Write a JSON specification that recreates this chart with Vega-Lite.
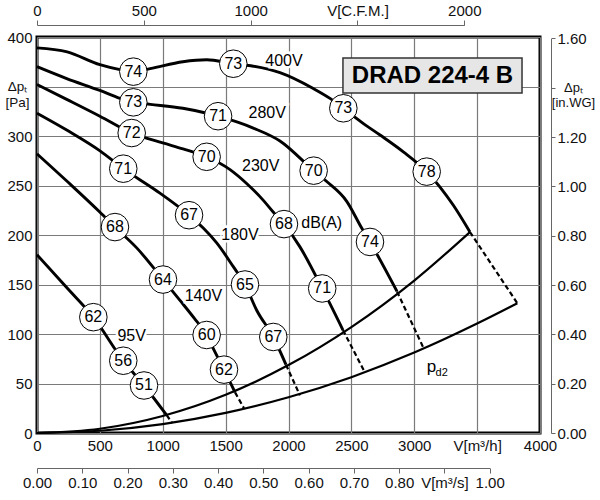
{
  "$schema": "https://vega.github.io/schema/vega-lite/v6.json",
  "width": 503,
  "height": 396,
  "autosize": {"type": "none"},
  "padding": {"left": 37, "top": 37, "right": 60, "bottom": 67},
  "background": "white",
  "config": {
    "font": "Liberation Sans",
    "view": {"stroke": "#000", "strokeWidth": 3},
    "axis": {"labelFontSize": 15, "labelColor": "#111", "labelFont": "Liberation Sans", "labelFlush": false, "labelOverlap": false, "grid": false}
  },
  "datasets": {
    "curves": [
      {"v": "400V", "q": 0, "p": 389}, {"v": "400V", "q": 240, "p": 385}, {"v": "400V", "q": 500, "p": 372},
      {"v": "400V", "q": 660, "p": 367}, {"v": "400V", "q": 766, "p": 365}, {"v": "400V", "q": 900, "p": 368},
      {"v": "400V", "q": 1160, "p": 375}, {"v": "400V", "q": 1350, "p": 377}, {"v": "400V", "q": 1561, "p": 373},
      {"v": "400V", "q": 1700, "p": 371}, {"v": "400V", "q": 1932, "p": 364}, {"v": "400V", "q": 2197, "p": 348},
      {"v": "400V", "q": 2330, "p": 338}, {"v": "400V", "q": 2436, "p": 328}, {"v": "400V", "q": 2580, "p": 314},
      {"v": "400V", "q": 2728, "p": 301}, {"v": "400V", "q": 2913, "p": 284}, {"v": "400V", "q": 3099, "p": 264},
      {"v": "400V", "q": 3311, "p": 230}, {"v": "400V", "q": 3443, "p": 203},
      {"v": "280V", "q": 0, "p": 370}, {"v": "280V", "q": 236, "p": 358}, {"v": "280V", "q": 500, "p": 346},
      {"v": "280V", "q": 660, "p": 338}, {"v": "280V", "q": 766, "p": 334}, {"v": "280V", "q": 900, "p": 332},
      {"v": "280V", "q": 1160, "p": 328}, {"v": "280V", "q": 1350, "p": 323}, {"v": "280V", "q": 1440, "p": 320},
      {"v": "280V", "q": 1720, "p": 308}, {"v": "280V", "q": 1932, "p": 295}, {"v": "280V", "q": 2200, "p": 265},
      {"v": "280V", "q": 2304, "p": 254}, {"v": "280V", "q": 2463, "p": 234}, {"v": "280V", "q": 2582, "p": 207},
      {"v": "280V", "q": 2648, "p": 193}, {"v": "280V", "q": 2863, "p": 143},
      {"v": "230V", "q": 0, "p": 352}, {"v": "230V", "q": 236, "p": 337}, {"v": "230V", "q": 500, "p": 320},
      {"v": "230V", "q": 753, "p": 303}, {"v": "230V", "q": 1000, "p": 293}, {"v": "230V", "q": 1161, "p": 287},
      {"v": "230V", "q": 1349, "p": 279}, {"v": "230V", "q": 1535, "p": 266}, {"v": "230V", "q": 1667, "p": 252},
      {"v": "230V", "q": 1800, "p": 235}, {"v": "230V", "q": 1880, "p": 223}, {"v": "230V", "q": 1964, "p": 211},
      {"v": "230V", "q": 2091, "p": 188}, {"v": "230V", "q": 2268, "p": 146}, {"v": "230V", "q": 2433, "p": 104},
      {"v": "180V", "q": 0, "p": 323}, {"v": "180V", "q": 250, "p": 305}, {"v": "180V", "q": 501, "p": 285},
      {"v": "180V", "q": 686, "p": 267}, {"v": "180V", "q": 947, "p": 245}, {"v": "180V", "q": 1209, "p": 220},
      {"v": "180V", "q": 1322, "p": 207}, {"v": "180V", "q": 1429, "p": 192}, {"v": "180V", "q": 1561, "p": 168},
      {"v": "180V", "q": 1654, "p": 150}, {"v": "180V", "q": 1747, "p": 124}, {"v": "180V", "q": 1879, "p": 97},
      {"v": "180V", "q": 1980, "p": 69},
      {"v": "140V", "q": 0, "p": 282}, {"v": "140V", "q": 250, "p": 253}, {"v": "140V", "q": 501, "p": 223},
      {"v": "140V", "q": 620, "p": 208}, {"v": "140V", "q": 793, "p": 187}, {"v": "140V", "q": 1002, "p": 155},
      {"v": "140V", "q": 1137, "p": 134}, {"v": "140V", "q": 1250, "p": 116}, {"v": "140V", "q": 1349, "p": 99},
      {"v": "140V", "q": 1415, "p": 82}, {"v": "140V", "q": 1487, "p": 64}, {"v": "140V", "q": 1575, "p": 41},
      {"v": "95V", "q": 0, "p": 180}, {"v": "95V", "q": 236, "p": 147}, {"v": "95V", "q": 448, "p": 117},
      {"v": "95V", "q": 686, "p": 73}, {"v": "95V", "q": 851, "p": 48}, {"v": "95V", "q": 1031, "p": 18}
    ],
    "dash": [
      {"v": "400V", "q": 3443, "p": 203}, {"v": "400V", "q": 3820, "p": 131},
      {"v": "280V", "q": 2863, "p": 143}, {"v": "280V", "q": 3077, "p": 85},
      {"v": "230V", "q": 2433, "p": 104}, {"v": "230V", "q": 2608, "p": 61},
      {"v": "180V", "q": 1980, "p": 69}, {"v": "180V", "q": 2091, "p": 38},
      {"v": "140V", "q": 1575, "p": 41}, {"v": "140V", "q": 1646, "p": 25},
      {"v": "95V", "q": 1031, "p": 18}, {"v": "95V", "q": 1076, "p": 10}
    ],
    "pd": [
      {"c": "a", "q": 0, "p": 0}, {"c": "a", "q": 500, "p": 4.3}, {"c": "a", "q": 1000, "p": 17.2},
      {"c": "a", "q": 1500, "p": 38.6}, {"c": "a", "q": 2000, "p": 68.6}, {"c": "a", "q": 2500, "p": 107},
      {"c": "a", "q": 3000, "p": 154}, {"c": "a", "q": 3443, "p": 203},
      {"c": "b", "q": 0, "p": 0}, {"c": "b", "q": 500, "p": 2.3}, {"c": "b", "q": 1000, "p": 9},
      {"c": "b", "q": 1500, "p": 20.3}, {"c": "b", "q": 2000, "p": 36.1}, {"c": "b", "q": 2500, "p": 56.4},
      {"c": "b", "q": 3000, "p": 81.2}, {"c": "b", "q": 3500, "p": 110.5}, {"c": "b", "q": 3820, "p": 131}
    ],
    "circles": [
      {"q": 766, "p": 365, "db": "74"}, {"q": 1561, "p": 373, "db": "73"}, {"q": 2436, "p": 328, "db": "73"}, {"q": 3099, "p": 264, "db": "78"},
      {"q": 766, "p": 334, "db": "73"}, {"q": 1440, "p": 320, "db": "71"}, {"q": 2200, "p": 265, "db": "70"}, {"q": 2648, "p": 193, "db": "74"},
      {"q": 753, "p": 303, "db": "72"}, {"q": 1349, "p": 279, "db": "70"}, {"q": 1964, "p": 211, "db": "68"}, {"q": 2268, "p": 146, "db": "71"},
      {"q": 686, "p": 267, "db": "71"}, {"q": 1209, "p": 220, "db": "67"}, {"q": 1654, "p": 150, "db": "65"}, {"q": 1879, "p": 97, "db": "67"},
      {"q": 620, "p": 208, "db": "68"}, {"q": 1002, "p": 155, "db": "64"}, {"q": 1349, "p": 99, "db": "60"}, {"q": 1487, "p": 64, "db": "62"},
      {"q": 448, "p": 117, "db": "62"}, {"q": 686, "p": 73, "db": "56"}, {"q": 851, "p": 48, "db": "51"}
    ],
    "labels": [
      {"q": 1964, "p": 376, "t": "400V"}, {"q": 1831, "p": 323, "t": "280V"}, {"q": 1779, "p": 270, "t": "230V"},
      {"q": 2264, "p": 212, "t": "dB(A)"}, {"q": 1614, "p": 200, "t": "180V"}, {"q": 1323, "p": 138, "t": "140V"},
      {"q": 753, "p": 98, "t": "95V"}
    ],
    "pdlab": [{"q": 3138, "p": 67, "t": "p"}],
    "pdsub": [{"q": 3218, "p": 61, "t": "d2"}],
    "box": [{"q": 2433, "q2": 3857, "p": 343.4, "p2": 378.8}],
    "boxtext": [{"q": 3145, "p": 361, "t": "DRAD 224-4 B"}]
  },
  "layer": [
    {
      "encoding": {
        "x": {
          "field": "q", "type": "quantitative", "title": null,
          "scale": {"domain": [0, 4000], "nice": false},
          "axis": {
            "orient": "bottom", "values": [0, 500, 1000, 1500, 2000, 2500, 3000, 3500, 4000], "format": "d",
            "labelExpr": "datum.value == 3500 ? 'V[m³/h]' : datum.label",
            "grid": true, "gridColor": "#7a7a7a", "gridWidth": 1.2, "domain": false, "ticks": false, "tickSize": 0, "labelPadding": 5
          }
        },
        "y": {
          "field": "p", "type": "quantitative", "title": null,
          "scale": {"domain": [0, 400], "nice": false},
          "axis": {
            "orient": "left", "values": [0, 50, 100, 150, 200, 250, 300, 350, 400], "format": "d",
            "labelExpr": "datum.value == 350 ? ['Δpₜ', '[Pa]'] : datum.label",
            "labelAlign": {"condition": {"test": "datum.value == 350", "value": "center"}, "value": "right"},
            "labelPadding": {"condition": {"test": "datum.value == 350", "value": 20}, "value": 5},
            "labelFontSize": {"condition": {"test": "datum.value == 350", "value": 13.5}, "value": 15},
            "grid": true, "gridColor": "#7a7a7a", "gridWidth": 1.2, "domain": false, "ticks": false, "tickSize": 0
          }
        }
      },
      "layer": [
        {"data": {"name": "pd"}, "mark": {"type": "line", "interpolate": "monotone", "color": "#000", "strokeWidth": 2.2}, "encoding": {"detail": {"field": "c"}}},
        {"data": {"name": "dash"}, "mark": {"type": "line", "color": "#000", "strokeWidth": 2.2, "strokeDash": [5, 3]}, "encoding": {"detail": {"field": "v"}}},
        {"data": {"name": "curves"}, "mark": {"type": "line", "interpolate": "monotone", "color": "#000", "strokeWidth": 2.9}, "encoding": {"detail": {"field": "v"}}},
        {"data": {"name": "box"}, "mark": {"type": "rect", "fill": "#e6e6e6", "stroke": "#333", "strokeWidth": 1.5}, "encoding": {"x2": {"field": "q2"}, "y2": {"field": "p2"}}},
        {"data": {"name": "boxtext"}, "mark": {"type": "text", "fontSize": 24, "fontWeight": "bold", "color": "#000"}, "encoding": {"text": {"field": "t"}}},
        {"data": {"name": "circles"}, "mark": {"type": "point", "shape": "circle", "filled": true, "fill": "#fff", "stroke": "#000", "strokeWidth": 1, "size": 760, "opacity": 1}, "encoding": {}},
        {"data": {"name": "circles"}, "mark": {"type": "text", "fontSize": 16, "color": "#000"}, "encoding": {"text": {"field": "db"}}},
        {"data": {"name": "labels"}, "mark": {"type": "text", "fontSize": 16, "fill": "#fff", "stroke": "#fff", "strokeWidth": 5}, "encoding": {"text": {"field": "t"}}},
        {"data": {"name": "labels"}, "mark": {"type": "text", "fontSize": 16, "color": "#000"}, "encoding": {"text": {"field": "t"}}},
        {"data": {"name": "pdlab"}, "mark": {"type": "text", "fontSize": 17, "color": "#000"}, "encoding": {"text": {"field": "t"}}},
        {"data": {"name": "pdsub"}, "mark": {"type": "text", "fontSize": 11, "color": "#000"}, "encoding": {"text": {"field": "t"}}}
      ]
    },
    {
      "data": {"values": [{"cfm": 0, "inwg": 0}]},
      "mark": {"type": "point", "opacity": 0},
      "encoding": {
        "x": {
          "field": "cfm", "type": "quantitative", "title": null,
          "scale": {"domain": [0, 2000], "range": [0, 427.3], "nice": false},
          "axis": {
            "orient": "top", "offset": 12, "values": [0, 500, 1000, 1500, 2000], "format": "d",
            "labelExpr": "datum.value == 1500 ? 'V[C.F.M.]' : datum.label",
            "domainColor": "#666", "tickColor": "#666", "tickSize": 5, "labelPadding": 2, "grid": false
          }
        },
        "y": {
          "field": "inwg", "type": "quantitative", "title": null,
          "scale": {"domain": [0, 1.6], "range": [396, 1.4], "nice": false},
          "axis": {
            "orient": "right", "offset": 11, "values": [0, 0.2, 0.4, 0.6, 0.8, 1.0, 1.2, 1.4, 1.6], "format": ".2f",
            "labelExpr": "datum.value == 1.4 ? ['Δpₜ', '[in.WG]'] : datum.label",
            "labelAlign": {"condition": {"test": "datum.value == 1.4", "value": "center"}, "value": "left"},
            "labelPadding": {"condition": {"test": "datum.value == 1.4", "value": 18}, "value": 2},
            "labelFontSize": {"condition": {"test": "datum.value == 1.4", "value": 13}, "value": 15},
            "domainColor": "#666", "tickColor": "#666", "tickSize": 4, "grid": false
          }
        }
      }
    },
    {
      "data": {"values": [{"ms": 0}]},
      "mark": {"type": "point", "opacity": 0},
      "encoding": {
        "x": {
          "field": "ms", "type": "quantitative", "title": null,
          "scale": {"domain": [0, 1], "range": [0, 452.7], "nice": false},
          "axis": {
            "orient": "bottom", "offset": 35, "values": [0, 0.1, 0.2, 0.3, 0.4, 0.5, 0.6, 0.7, 0.8, 0.9, 1.0], "format": ".2f",
            "labelExpr": "datum.value == 0.9 ? 'V[m³/s]' : datum.label",
            "domainColor": "#666", "tickColor": "#666", "tickSize": 5, "labelPadding": 2, "grid": false
          }
        }
      }
    }
  ],
  "resolve": {"scale": {"x": "independent", "y": "independent"}, "axis": {"x": "independent", "y": "independent"}}
}
